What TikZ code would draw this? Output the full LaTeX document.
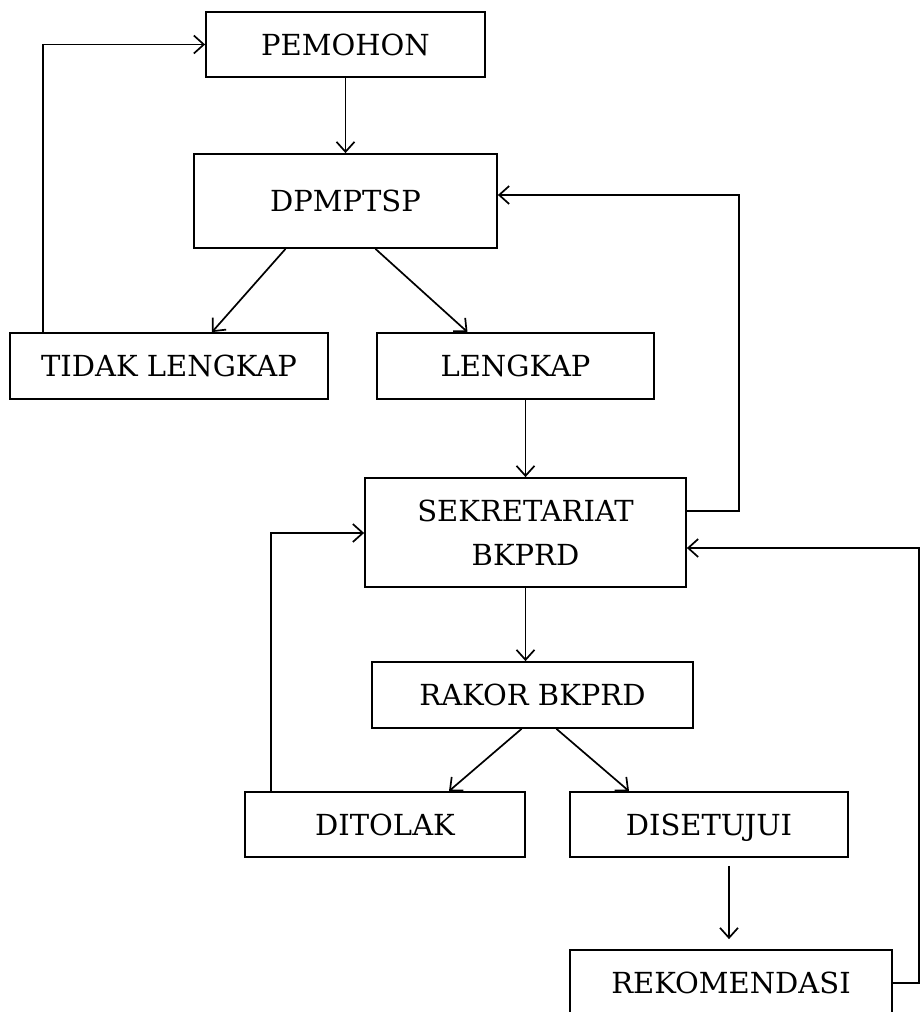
\documentclass[tikz,border=0pt]{standalone}
\usepackage{fontspec}
\setmainfont{DejaVu Serif}
\usetikzlibrary{arrows.meta}

\begin{document}
\begin{tikzpicture}[x=0.5pt,y=-0.5pt,
    box/.style={draw,rectangle,line width=0.9pt,inner sep=0pt,align=center,
      text height=10.6pt,text depth=0pt,font=\fontsize{14.5}{22}\selectfont},
    arr/.style={line width=0.85pt,-{Straight Barb[length=5pt,width=9pt]}}]

        \useasboundingbox (0,0) rectangle (920,1012);
        \clip (0,0) rectangle (920,1012);

        \begin{scope}[every node/.style={box}]
          \node[minimum width=139.5pt,minimum height=32.5pt] (pemohon) at (345.5,44.5)  {PEMOHON};
          \node[minimum width=151.5pt,minimum height=47pt]   (dpmptsp) at (345.5,201)   {DPMPTSP};
          \node[minimum width=159pt,minimum height=33pt]     (tidak)   at (169,366)     {TIDAK LENGKAP};
          \node[minimum width=138.5pt,minimum height=33pt]   (lengkap) at (515.5,366)   {LENGKAP};
          \node[minimum width=160.5pt,minimum height=54.5pt,text height=,text depth=]
                                                             (sek)     at (525.5,532.5) {SEKRETARIAT\\BKPRD};
          \node[minimum width=160.5pt,minimum height=33pt]   (rakor)   at (532.5,695)   {RAKOR BKPRD};
          \node[minimum width=140pt,minimum height=32.5pt]   (tolak)   at (385,824.5)   {DITOLAK};
          \node[minimum width=139pt,minimum height=32.5pt]   (setuju)  at (709,824.5)   {DISETUJUI};
          \node[minimum width=161pt,minimum height=33pt]     (reko)    at (731,983)     {REKOMENDASI};
        \end{scope}

        \coordinate (ka) at (739,195);
        \coordinate (kb) at (919,548);
        \coordinate (kc) at (271,533);

        \begin{scope}[every path/.style={arr}]
          \draw (pemohon.south) -- (dpmptsp.north);
          \draw ([xshift=-30pt]dpmptsp.south) -- ([xshift=21.5pt]tidak.north);
          \draw ([xshift=15pt]dpmptsp.south) -- ([xshift=-24pt]lengkap.north);
          \draw ([xshift=17pt]tidak.north west) |- (pemohon.west);
          \draw (lengkap.south -| sek.north) -- (sek.north);
          \draw (sek.east |- 0,511) -| (ka) -- (ka -| dpmptsp.east);
          \draw (sek.south) -- (sek.south |- rakor.north);
          \draw ([xshift=-5.5pt]rakor.south) -- ([xshift=32pt]tolak.north);
          \draw ([xshift=12pt]rakor.south) -- ([xshift=-40pt]setuju.north);
          \draw (kc |- tolak.north) -- (kc) -- (kc -| sek.west);
          \draw ([xshift=10pt,yshift=-4pt]setuju.south) -- ([xshift=-1pt,yshift=5pt]reko.north);
          \draw (reko.east) -| (kb) -- (kb -| sek.east);
        \end{scope}

      \end{tikzpicture}
\end{document}
